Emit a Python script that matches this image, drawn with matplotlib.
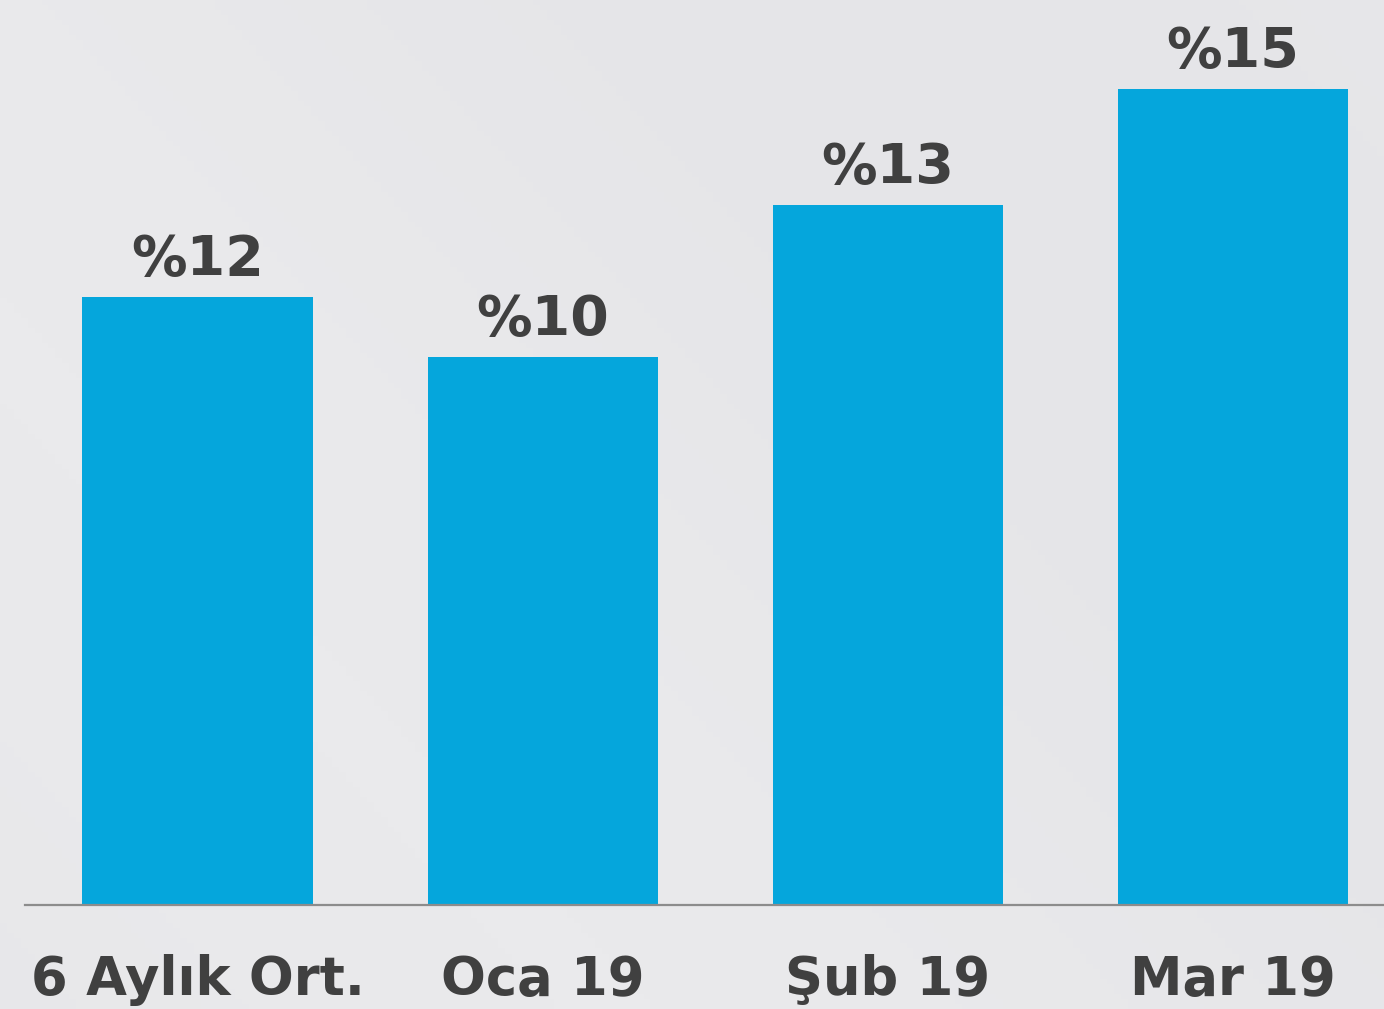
import numpy as np
import matplotlib
matplotlib.use("Agg")
import matplotlib.pyplot as plt
from matplotlib.colors import LinearSegmentedColormap

categories = ["6 Aylık Ort.", "Oca 19", "Şub 19", "Mar 19"]
values = [11.18, 10.08, 12.86, 15.0]
value_labels = ["%12", "%10", "%13", "%15"]

W, H, DPI = 1384, 1009, 100
fig = plt.figure(figsize=(W / DPI, H / DPI), dpi=DPI)
fig.patch.set_facecolor("#E7E7EA")

# subtle background gradient
bg = fig.add_axes([0, 0, 1, 1], zorder=-10)
yy, xx = np.mgrid[0:1:200j, 0:1:200j]
grad = 0.5 + 0.5 * np.sin((xx * 1.2 + yy * 0.8) * 3.0)
cmap = LinearSegmentedColormap.from_list("bg", ["#E5E5E8", "#EAEAEC"])
bg.imshow(grad, cmap=cmap, aspect="auto", extent=[0, 1, 0, 1], origin="lower")
bg.axis("off")

ax = fig.add_axes([25 / W, (H - 905) / H, 1 - 25 / W, 905 / H])
ax.patch.set_alpha(0)
x = np.arange(len(categories))
ax.bar(x, values, width=0.667, color="#05A6DC", zorder=2)
ax.set_xlim(-0.5, 3.438)
ax.set_ylim(0, 905 / 54.4)

for s in ["top", "right", "left"]:
    ax.spines[s].set_visible(False)
ax.spines["bottom"].set_color("#8C8C8C")
ax.spines["bottom"].set_linewidth(1.6)
ax.set_yticks([])
ax.set_xticks([])

base = dict(family="DejaVu Sans", fontweight="bold", color="#404040")
for xi, v, lab in zip(x, values, value_labels):
    ax.annotate(lab, (xi, v), xytext=(0, 22), textcoords="offset pixels",
                ha="center", va="baseline", fontsize=40, **base)
for xi, cat in zip(x, categories):
    ax.annotate(cat, (xi, 0), xytext=(0, -90), textcoords="offset pixels",
                ha="center", va="baseline", annotation_clip=False,
                fontsize=38, **base)

fig.savefig("out.png", dpi=DPI, facecolor=fig.get_facecolor())
